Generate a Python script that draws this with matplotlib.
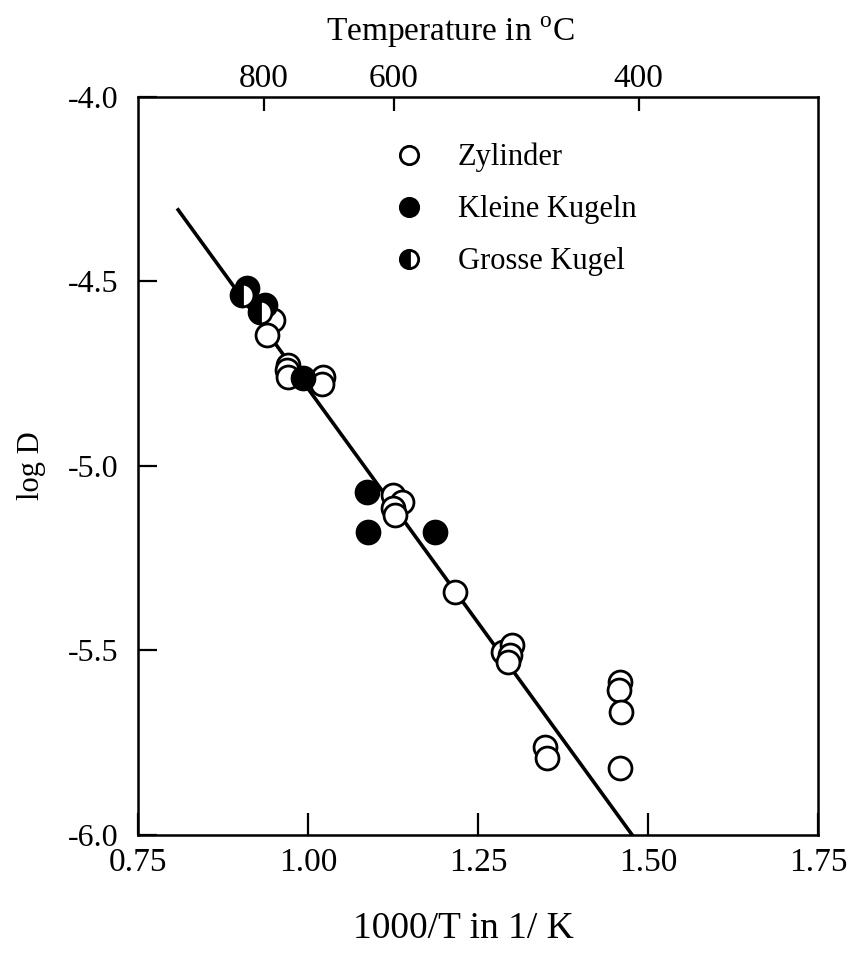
import numpy as np
import matplotlib
matplotlib.use("Agg")
import matplotlib.pyplot as plt

plt.rcParams['font.family'] = ['Liberation Serif', 'DejaVu Serif']
plt.rcParams['mathtext.fontset'] = 'custom'
plt.rcParams['mathtext.rm'] = 'Liberation Serif'

# 1000/T (1/K) and log D for each sample shape
zyl_x = [0.949, 0.940, 0.971, 0.969, 0.971, 1.022, 1.021, 1.125, 1.138, 1.125,
         1.128, 1.216, 1.287, 1.300, 1.297, 1.294, 1.349, 1.351, 1.459, 1.457,
         1.460, 1.459]
zyl_y = [-4.604, -4.645, -4.726, -4.740, -4.759, -4.759, -4.778, -5.079, -5.098, -5.114,
         -5.133, -5.341, -5.504, -5.485, -5.512, -5.531, -5.762, -5.791, -5.585, -5.607,
         -5.667, -5.818]

klein_x = [0.910, 0.937, 0.993, 1.087, 1.088, 1.187]
klein_y = [-4.518, -4.564, -4.762, -5.070, -5.179, -5.179]

gross_x = [0.903, 0.929]
gross_y = [-4.537, -4.583]

# regression line end points
fit_x = [0.809, 1.4765]
fit_y = [-4.306, -6.0]

# top axis: temperature in degC
top_pos = [0.935, 1.126, 1.486]
top_lab = ['800', '600', '400']

fig = plt.figure(figsize=(8.61, 9.55), dpi=100)
ax = fig.add_axes([0.1603, 0.1257, 0.790, 0.7728])

ax.plot(fit_x, fit_y, color='black', lw=2.6, zorder=1)

ms = 16.5
ax.plot(zyl_x, zyl_y, 'o', ms=ms, mfc='white', mec='black', mew=2.0,
        ls='none', label='Zylinder', zorder=2)
ax.plot(klein_x, klein_y, 'o', ms=ms, mfc='black', mec='black', mew=2.0,
        ls='none', label='Kleine Kugeln', zorder=2)
ax.plot(gross_x, gross_y, 'o', ms=ms, mfc='black', mfcalt='white', fillstyle='left',
        mec='black', mew=2.0, ls='none', label='Grosse Kugel', zorder=3)

ax.set_xlim(0.75, 1.75)
ax.set_ylim(-6.0, -4.0)
ax.set_xticks([0.75, 1.00, 1.25, 1.50, 1.75])
ax.set_xticklabels(['0.75', '1.00', '1.25', '1.50', '1.75'])
ax.set_yticks([-6.0, -5.5, -5.0, -4.5, -4.0])
ax.set_yticklabels(['-6.0', '-5.5', '-5.0', '-4.5', '-4.0'])
ax.tick_params(axis='x', direction='in', length=16, width=1.6, labelsize=24, pad=9)
ax.tick_params(axis='y', direction='in', length=14, width=1.6, labelsize=23, pad=14)
for s in ax.spines.values():
    s.set_linewidth(1.8)

ax.set_xlabel('1000/T in 1/ K', fontsize=27, labelpad=24, x=0.478)
ax.set_ylabel('log D', fontsize=22, labelpad=16)

top = ax.twiny()
top.set_xlim(ax.get_xlim())
top.set_xticks(top_pos)
top.set_xticklabels(top_lab)
top.tick_params(axis='x', direction='in', length=10, width=1.6, labelsize=24, pad=2)
top.set_xlabel(r'Temperature in $^{\mathrm{o}}$C', fontsize=24, labelpad=16, x=0.459)

leg = ax.legend(loc='upper left', bbox_to_anchor=(0.335, 0.975), frameon=False,
                fontsize=22, handletextpad=1.1, labelspacing=0.75,
                handlelength=1.0, markerscale=0.8)

fig.savefig('out.png', dpi=100)
